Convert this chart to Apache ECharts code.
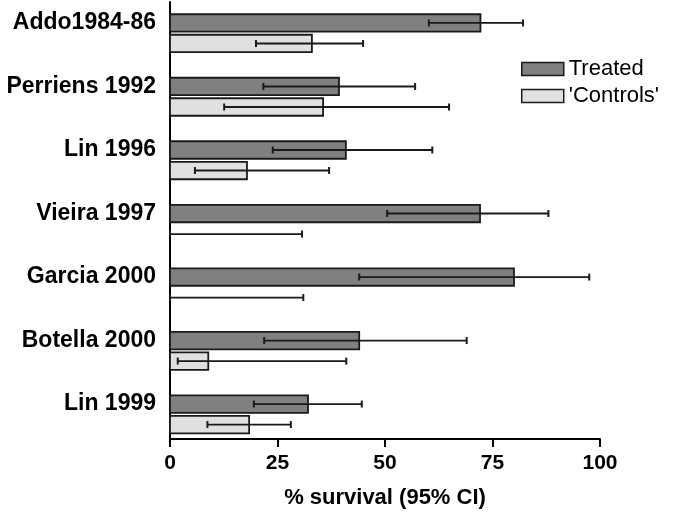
<!DOCTYPE html>
<html>
<head>
<meta charset="utf-8">
<script src="https://cdn.jsdelivr.net/npm/echarts@6/dist/echarts.min.js"></script>
<style>
html,body{margin:0;padding:0;background:#fff;}
#chart{width:678px;height:521px;}
</style>
</head>
<body>
<div id="chart"></div>
<script>
var categories = ['Addo1984-86','Perriens 1992','Lin 1996','Vieira 1997','Garcia 2000','Botella 2000','Lin 1999'];
var treated    = [72.2, 39.3, 40.9, 72.1, 80.0, 44.0, 32.1];
var treatedLo  = [60.2, 21.7, 23.9, 50.5, 44.0, 21.9, 19.5];
var treatedHi  = [82.1, 57.0, 61.0, 88.0, 97.5, 69.0, 44.6];
var controls   = [33.0, 35.6, 17.9, 0, 0, 8.9, 18.4];
var controlsLo = [20.0, 12.6, 5.8, 0, 0, 1.8, 8.7];
var controlsHi = [44.9, 64.9, 37.0, 30.7, 31.0, 41.0, 28.1];
var xTicks = [0, 25, 50, 75, 100];

var FONT = "'Liberation Sans', Arial, Helvetica, sans-serif";

function buildData(vals, lo, hi) {
  return categories.map(function (c, i) { return [i, vals[i], lo[i], hi[i]]; });
}

function makeRender(offset, fill) {
  return function (params, api) {
    var idx = api.value(0);
    var v = api.value(1), lo = api.value(2), hi = api.value(3);
    var yc = idx + offset;
    var p0 = api.coord([0, yc]);
    var pv = api.coord([v, yc]);
    var pl = api.coord([lo, yc]);
    var ph = api.coord([hi, yc]);
    var h = api.size([0, 0.275])[1];
    var cap = 7;
    var children = [];
    if (v > 0) {
      children.push({
        type: 'rect',
        shape: { x: p0[0], y: p0[1] - h / 2, width: pv[0] - p0[0], height: h },
        style: { fill: fill, stroke: '#1a1a1a', lineWidth: 1.8 }
      });
    }
    children.push({
      type: 'line',
      shape: { x1: pl[0], y1: pl[1], x2: ph[0], y2: ph[1] },
      style: { stroke: '#1a1a1a', lineWidth: 1.8 }
    });
    children.push({
      type: 'line',
      shape: { x1: pl[0], y1: pl[1] - cap / 2, x2: pl[0], y2: pl[1] + cap / 2 },
      style: { stroke: '#1a1a1a', lineWidth: 2 }
    });
    children.push({
      type: 'line',
      shape: { x1: ph[0], y1: ph[1] - cap / 2, x2: ph[0], y2: ph[1] + cap / 2 },
      style: { stroke: '#1a1a1a', lineWidth: 2 }
    });
    return { type: 'group', children: children };
  };
}

var chart = echarts.init(document.getElementById('chart'), null, { renderer: 'canvas' });
chart.setOption({
  animation: false,
  backgroundColor: '#ffffff',
  grid: { left: 170, right: 78, top: 2, bottom: 82, containLabel: false },
  legend: {
    orient: 'vertical',
    left: 516,
    top: 53,
    itemWidth: 42,
    itemHeight: 13,
    itemGap: 5,
    icon: 'rect',
    textStyle: { fontFamily: FONT, fontSize: 22, color: '#000' },
    data: [
      { name: 'Treated', itemStyle: { color: '#808080', borderColor: '#1a1a1a', borderWidth: 1.5 } },
      { name: "'Controls'", itemStyle: { color: '#e0e0e0', borderColor: '#1a1a1a', borderWidth: 1.5 } }
    ]
  },
  xAxis: {
    type: 'value',
    min: 0, max: 100, interval: 25,
    name: '% survival (95% CI)',
    nameLocation: 'middle',
    nameGap: 48,
    nameTextStyle: { fontFamily: FONT, fontSize: 22, fontWeight: 'bold', color: '#000' },
    axisLine: { show: true, onZero: false, lineStyle: { color: '#000', width: 2 } },
    axisTick: { show: true, inside: false, length: 8, lineStyle: { color: '#000', width: 2 } },
    axisLabel: {
      fontFamily: FONT, fontSize: 21, fontWeight: 'bold', color: '#000', margin: 14,
      formatter: function (v) { return xTicks.indexOf(v) >= 0 ? String(v) : ''; }
    },
    splitLine: { show: false }
  },
  yAxis: {
    type: 'value',
    inverse: true,
    min: -0.33, max: 6.55,
    axisLine: { show: true, onZero: false, lineStyle: { color: '#000', width: 2 } },
    axisTick: { show: false },
    splitLine: { show: false },
    axisLabel: {
      customValues: [0, 1, 2, 3, 4, 5, 6],
      fontFamily: FONT, fontSize: 23, fontWeight: 'bold', color: '#000', margin: 14,
      formatter: function (v) { return categories[Math.round(v)] || ''; }
    }
  },
  series: [
    {
      name: 'Treated',
      type: 'custom',
      itemStyle: { color: '#808080', borderColor: '#1a1a1a', borderWidth: 1.5 },
      renderItem: makeRender(0, '#808080'),
      encode: { x: [1, 2, 3], y: 0 },
      data: buildData(treated, treatedLo, treatedHi),
      clip: false
    },
    {
      name: "'Controls'",
      type: 'custom',
      itemStyle: { color: '#e0e0e0', borderColor: '#1a1a1a', borderWidth: 1.5 },
      renderItem: makeRender(0.323, '#e0e0e0'),
      encode: { x: [1, 2, 3], y: 0 },
      data: buildData(controls, controlsLo, controlsHi),
      clip: false
    }
  ]
});
</script>
</body>
</html>
